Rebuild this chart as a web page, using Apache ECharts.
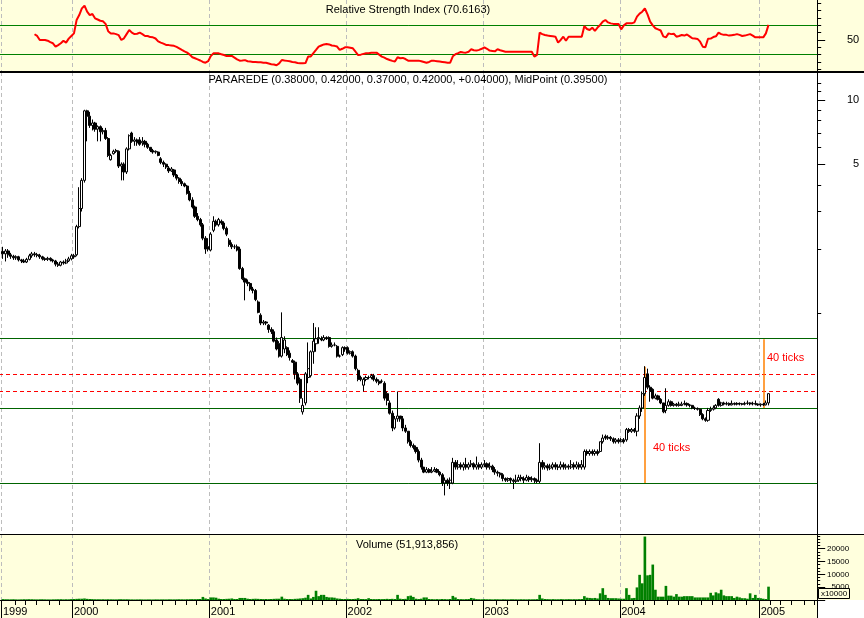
<!DOCTYPE html>
<html><head><meta charset="utf-8">
<script src="https://cdn.jsdelivr.net/npm/echarts@6/dist/echarts.min.js"></script>
<style>
html,body{margin:0;padding:0;background:#fff;}
#wrap{position:relative;width:864px;height:618px;background:#FFFFDD;overflow:hidden;}
.bg{position:absolute;background:#fff;}
#chart{position:absolute;left:0;top:0;width:864px;height:618px;}
</style></head><body>
<div id="wrap">
<div class="bg" style="left:0;top:72px;width:864px;height:462px"></div>
<div class="bg" style="left:818px;top:600px;width:46px;height:18px"></div>
<div id="chart"></div>
</div>
<script>
// ---------- data ----------
const yearLabels = ['1999','2000','2001','2002','2003','2004','2005'];
const rsiTicks = [10,20,30,40,50,60,70,80,90,100];
const rsiLabels = [50];
const rsiLevels = [70, 30];
const priceTicks = [1,2,3,4,5,6,7,8,9,10,11,12];
const priceLabels = [5, 10];
const greenLevels = [0.755, 0.36, 0.16];
const redLevels = [0.52, 0.43];
const volMinorTicks = [1250,2500,3750,6250,7500,8750,11250,12500,13750,16250,17500,18750,21250,22500,23750,25000];
const volMajorTicks = [0,5000,10000,15000,20000];
const volLabels = [5000,10000,15000,20000];
const markerWeeks = [244, 289];
const markerSpans = [[0.562, 0.16],[0.755, 0.36]];

// weekly bars [open, close, low, high], first week ending Fri 2 Jul 1999
const ohlc = [
[1.95,1.90,1.80,2.05],[1.90,1.96,1.75,2.00],[1.96,1.88,1.82,2.00],[1.88,1.85,1.80,1.92],[1.85,1.82,1.78,1.88],
[1.82,1.84,1.78,1.87],[1.84,1.78,1.75,1.86],[1.78,1.76,1.72,1.80],[1.76,1.74,1.72,1.80],[1.74,1.79,1.72,1.82],
[1.79,1.86,1.77,1.90],[1.86,1.90,1.82,1.94],[1.90,1.88,1.84,1.94],[1.88,1.87,1.83,1.92],[1.87,1.84,1.80,1.90],
[1.84,1.80,1.77,1.86],[1.80,1.79,1.76,1.83],[1.79,1.81,1.76,1.84],[1.81,1.78,1.75,1.83],[1.78,1.76,1.73,1.80],
[1.76,1.70,1.66,1.78],[1.70,1.68,1.65,1.74],[1.68,1.74,1.66,1.76],[1.74,1.72,1.69,1.77],[1.72,1.76,1.70,1.80],
[1.76,1.80,1.74,1.84],[1.80,1.86,1.77,1.90],
[1.86,1.84,1.80,1.90],[1.88,2.55,1.85,2.60],[2.55,3.10,2.50,3.90],[3.10,4.20,3.00,4.30],[4.20,8.90,4.10,9.00],
[8.90,8.40,6.40,9.00],[8.40,7.60,7.40,8.80],[7.60,7.80,7.20,8.10],[7.80,7.30,7.10,7.90],[7.30,7.50,6.40,7.60],
[7.50,7.10,6.40,7.60],[7.10,7.20,6.90,7.40],[7.20,6.60,6.50,7.40],[6.60,5.50,5.40,6.70],[5.25,5.50,5.20,5.60],
[5.60,5.75,5.55,5.85],[5.75,5.80,5.65,5.90],[5.75,4.90,4.80,5.80],[4.90,5.00,4.20,5.10],[5.00,4.60,4.20,5.10],
[4.60,5.90,4.50,6.00],[5.90,6.80,5.80,6.90],[7.00,6.40,6.30,7.10],[6.40,6.50,6.10,6.70],[6.50,6.30,6.10,6.60],
[6.50,6.20,6.10,6.70],[6.30,6.40,6.10,6.70],[6.40,6.20,6.00,6.50],[6.20,6.00,5.90,6.30],[6.00,5.80,5.70,6.00],
[5.80,5.70,5.60,5.90],[5.70,5.75,5.60,5.80],[5.70,5.50,5.45,5.75],[5.30,5.10,5.00,5.40],[5.10,5.00,4.85,5.20],
[5.00,4.85,4.75,5.05],[4.80,4.65,4.55,4.90],[4.65,4.75,4.60,4.85],[4.70,4.45,4.35,4.75],[4.45,4.30,4.20,4.50],
[4.30,4.15,4.05,4.35],[4.15,4.05,3.95,4.25],[4.05,3.95,3.90,4.10],[3.95,3.65,3.60,4.00],[3.65,3.40,3.35,3.75],
[3.40,3.15,3.10,3.50],[3.15,2.85,2.80,3.20],[2.85,2.75,2.70,2.95],[2.75,2.60,2.55,2.80],[2.60,2.25,2.20,2.65],
[2.25,2.00,1.90,2.30],[2.05,2.00,1.95,2.25],
[1.98,2.35,1.95,2.40],[2.45,2.70,2.40,2.85],[2.70,2.60,2.55,2.75],[2.60,2.75,2.55,2.80],[2.70,2.65,2.60,2.75],
[2.65,2.50,2.45,2.70],[2.50,2.35,2.30,2.55],[2.20,2.10,2.05,2.25],[2.10,2.05,2.00,2.15],[2.05,2.05,2.00,2.10],
[2.05,1.98,1.95,2.10],[2.00,1.62,1.60,2.05],[1.62,1.45,1.43,1.65],[1.45,1.40,1.15,1.47],[1.40,1.38,1.34,1.44],
[1.38,1.30,1.27,1.40],[1.30,1.28,1.24,1.33],[1.28,1.16,1.14,1.30],[1.13,1.01,1.00,1.15],[0.98,0.90,0.88,1.00],
[0.90,0.91,0.88,0.93],[0.91,0.90,0.88,0.92],[0.88,0.84,0.81,0.89],[0.84,0.82,0.80,0.86],[0.82,0.74,0.73,0.84],
[0.75,0.68,0.67,0.77],[0.72,0.63,0.62,0.74],[0.63,0.77,0.62,1.01],[0.68,0.75,0.65,0.78],[0.69,0.64,0.63,0.70],
[0.65,0.62,0.60,0.67],[0.60,0.59,0.585,0.61],[0.59,0.52,0.49,0.60],[0.52,0.47,0.46,0.53],[0.49,0.40,0.38,0.50],
[0.345,0.37,0.335,0.40],[0.38,0.52,0.37,0.53],[0.50,0.55,0.47,0.73],[0.51,0.66,0.50,0.67],[0.66,0.74,0.58,0.90],
[0.72,0.76,0.66,0.86],[0.76,0.77,0.72,0.86],[0.76,0.75,0.74,0.78],[0.75,0.77,0.74,0.79],[0.77,0.76,0.75,0.78],
[0.77,0.70,0.69,0.78],[0.70,0.71,0.69,0.73],[0.71,0.71,0.70,0.73],[0.70,0.63,0.62,0.71],[0.63,0.63,0.62,0.64],
[0.64,0.69,0.63,0.70],[0.69,0.68,0.66,0.70],
[0.69,0.65,0.64,0.70],[0.65,0.66,0.64,0.67],[0.66,0.63,0.62,0.67],[0.63,0.55,0.54,0.64],[0.54,0.49,0.48,0.55],
[0.50,0.49,0.48,0.51],[0.46,0.49,0.43,0.50],[0.49,0.50,0.48,0.51],[0.50,0.50,0.49,0.51],[0.50,0.51,0.49,0.52],
[0.51,0.49,0.48,0.52],[0.49,0.48,0.47,0.50],[0.48,0.47,0.46,0.49],[0.48,0.48,0.47,0.49],[0.47,0.40,0.39,0.48],
[0.42,0.39,0.37,0.43],[0.38,0.34,0.335,0.39],[0.34,0.29,0.28,0.35],[0.29,0.32,0.285,0.33],[0.32,0.33,0.31,0.43],
[0.33,0.32,0.31,0.33],[0.32,0.29,0.28,0.33],[0.29,0.28,0.275,0.30],[0.28,0.25,0.245,0.28],[0.25,0.24,0.235,0.255],
[0.24,0.235,0.23,0.245],[0.235,0.225,0.22,0.24],[0.225,0.205,0.20,0.23],[0.205,0.19,0.185,0.21],[0.19,0.18,0.178,0.19],
[0.18,0.185,0.178,0.19],[0.185,0.18,0.178,0.188],[0.18,0.182,0.178,0.19],[0.182,0.185,0.18,0.19],[0.185,0.18,0.178,0.188],
[0.18,0.175,0.172,0.182],[0.175,0.16,0.155,0.178],[0.16,0.165,0.14,0.17],[0.165,0.16,0.155,0.168],[0.16,0.165,0.15,0.17],
[0.16,0.20,0.158,0.21],[0.20,0.19,0.185,0.205],[0.19,0.195,0.185,0.205],[0.195,0.19,0.185,0.20],[0.19,0.195,0.183,0.20],
[0.195,0.19,0.185,0.21],[0.19,0.195,0.185,0.20],[0.195,0.197,0.19,0.205],[0.197,0.19,0.185,0.20],[0.19,0.195,0.185,0.213],
[0.195,0.19,0.185,0.20],[0.19,0.195,0.186,0.20],
[0.195,0.197,0.19,0.205],[0.197,0.19,0.185,0.20],[0.19,0.192,0.185,0.20],[0.192,0.185,0.18,0.195],[0.185,0.18,0.175,0.19],
[0.18,0.178,0.172,0.183],[0.178,0.175,0.17,0.18],[0.175,0.168,0.163,0.178],[0.168,0.165,0.162,0.17],[0.165,0.168,0.162,0.17],
[0.168,0.165,0.16,0.17],[0.165,0.163,0.15,0.168],[0.163,0.165,0.16,0.175],[0.165,0.17,0.162,0.175],[0.17,0.168,0.163,0.175],
[0.168,0.165,0.16,0.172],[0.165,0.17,0.163,0.175],[0.17,0.166,0.162,0.173],[0.166,0.168,0.162,0.172],[0.168,0.165,0.16,0.17],
[0.165,0.163,0.16,0.168],[0.163,0.20,0.16,0.246],[0.20,0.19,0.185,0.205],[0.19,0.193,0.185,0.20],[0.193,0.188,0.183,0.197],
[0.188,0.192,0.184,0.197],[0.19,0.195,0.185,0.20],[0.195,0.19,0.185,0.20],[0.19,0.19,0.184,0.196],[0.19,0.195,0.185,0.202],
[0.195,0.19,0.185,0.20],[0.19,0.192,0.185,0.197],[0.192,0.19,0.185,0.196],[0.19,0.195,0.186,0.205],[0.195,0.19,0.185,0.20],
[0.19,0.195,0.186,0.202],[0.195,0.19,0.185,0.20],[0.19,0.195,0.185,0.205],[0.19,0.225,0.185,0.23],[0.225,0.22,0.215,0.23],
[0.22,0.225,0.215,0.23],[0.225,0.22,0.215,0.23],[0.22,0.225,0.215,0.23],[0.225,0.22,0.215,0.23],[0.225,0.25,0.222,0.25],
[0.25,0.26,0.245,0.27],[0.265,0.26,0.255,0.27],[0.26,0.262,0.255,0.268],[0.262,0.258,0.252,0.266],[0.258,0.25,0.245,0.262],
[0.25,0.255,0.245,0.26],[0.255,0.25,0.245,0.26],
[0.25,0.255,0.248,0.26],[0.255,0.25,0.245,0.26],[0.255,0.285,0.25,0.29],[0.285,0.28,0.275,0.29],[0.28,0.285,0.275,0.29],
[0.285,0.28,0.275,0.29],[0.28,0.33,0.265,0.34],[0.33,0.36,0.32,0.37],[0.36,0.42,0.345,0.43],[0.42,0.50,0.41,0.565],
[0.52,0.45,0.44,0.55],[0.45,0.43,0.385,0.46],[0.44,0.40,0.395,0.445],[0.40,0.41,0.395,0.42],[0.41,0.395,0.39,0.415],
[0.395,0.38,0.375,0.40],[0.38,0.345,0.34,0.38],[0.35,0.37,0.34,0.445],[0.37,0.385,0.365,0.395],[0.385,0.37,0.365,0.39],
[0.37,0.375,0.365,0.38],[0.375,0.37,0.365,0.38],[0.37,0.375,0.365,0.385],[0.37,0.375,0.367,0.385],[0.375,0.378,0.37,0.39],
[0.378,0.372,0.365,0.382],[0.372,0.37,0.362,0.376],[0.37,0.36,0.355,0.372],[0.36,0.358,0.352,0.365],[0.358,0.355,0.35,0.362],
[0.355,0.335,0.33,0.358],[0.335,0.32,0.315,0.34],[0.32,0.315,0.31,0.325],[0.315,0.35,0.31,0.36],[0.35,0.355,0.345,0.365],
[0.355,0.36,0.35,0.37],[0.36,0.37,0.355,0.375],[0.395,0.37,0.365,0.40],[0.37,0.38,0.365,0.385],[0.38,0.375,0.37,0.385],
[0.375,0.378,0.37,0.385],[0.378,0.372,0.368,0.382],[0.372,0.378,0.37,0.39],[0.378,0.375,0.37,0.382],[0.375,0.378,0.37,0.383],
[0.378,0.376,0.37,0.382],[0.376,0.375,0.37,0.38],[0.375,0.378,0.37,0.385],[0.378,0.38,0.372,0.39],[0.38,0.376,0.37,0.383],
[0.376,0.378,0.37,0.385],[0.378,0.375,0.37,0.39],[0.375,0.372,0.368,0.378],
[0.372,0.375,0.365,0.378],[0.375,0.372,0.368,0.38],[0.372,0.38,0.37,0.39],[0.38,0.42,0.37,0.42]
];

// weekly volume (x10000)
const volume = [
350,300,280,260,300,240,220,260,300,280,
320,300,260,240,280,300,260,240,220,260,
280,300,320,260,300,280,360,400,450,500,
500,600,450,400,350,300,300,280,300,260,
300,280,260,250,300,320,280,300,260,240,
220,240,260,240,220,250,240,220,260,240,
250,260,240,280,260,250,270,300,280,260,
300,320,350,330,360,400,1200,600,400,1000,
1000,900,500,400,400,450,500,600,400,400,
800,800,800,500,400,450,500,450,400,350,
400,350,400,450,500,500,1300,500,400,400,
350,450,500,600,700,900,2000,600,1200,3600,
1500,2000,2000,1200,1000,1000,900,600,500,400,
400,450,400,400,450,700,400,400,350,700,
400,350,350,400,350,400,450,400,450,400,
2000,500,400,450,1500,1700,1200,500,400,500,
1000,1000,400,350,300,350,300,400,350,300,
400,1600,1000,400,350,300,350,400,800,600,
350,300,300,350,300,300,250,300,300,250,
300,280,250,300,300,280,260,300,280,260,
300,280,300,350,2000,600,400,350,300,350,
300,300,350,300,300,350,300,320,300,350,
400,1500,900,800,700,800,600,2600,4600,2000,
800,700,700,700,600,500,500,4600,2000,700,
800,4900,9800,6500,24700,9600,9800,13800,4000,1300,
1300,1300,5500,1700,1700,1300,2300,1300,1300,1500,
1500,1500,1500,1000,1000,1000,1000,1000,1000,2800,
1800,3000,2600,4000,1800,1500,1500,1500,800,1300,
1000,700,700,500,2600,800,2000,800,700,500,
400,5191
];

// weekly RSI(14)
const rsi = [
null,null,null,null,null,null,null,null,null,null,
null,null,57.8,55.5,50,50,50,49,47,45.5,
40.9,43,45.5,49,46.4,51.8,55.5,59,77.3,84,
93.2,96.8,88.6,84,85.5,79.6,78,76.3,75.5,72,
62,59,59,58,56.6,50,52.3,58,63.6,60,
58,58.5,60,58,55.5,55.5,54,53.6,52,48,
46.4,45,43.2,43,42.5,42,40.5,38.6,36.5,34.5,
32.7,30,26.4,25,23.6,22,20,19,21,28,
31.8,31.8,31.8,30.5,29.5,28.2,28.2,28.2,26,23.5,
21.8,22,22.5,21,20.5,20,20,19.5,19.5,19,
19,18,17,16.5,15.5,18,22.7,22,21.5,21,
20,19.5,18.5,18.2,18.2,18.5,27.3,27.5,32,36.4,
40.9,42.5,44,44.5,44,42.5,42,41,36.4,38,
40,40,39.5,38.6,34,29.5,30,31,31.8,32,
32.5,32.7,32.7,30,27.3,26,24,22.7,21.5,20.5,
26.4,25,25.5,24,21.8,21.8,21.8,21.8,21.8,21,
20,19,20,21.8,21.5,21,20.5,20,19.5,19,
19,27.7,30.5,32,33.6,33,32.7,34,37.3,36,
35.5,36.5,38,40,38,35.5,35,34.5,37.3,36,
35,34,34,34,34,34,34,34,34,34,
34,34,27.3,29.5,60,58,56.8,56,55.5,55,
54.5,46.4,50,54.5,49,54.5,54.5,54.5,54.5,54.5,
54.5,69,65,63.6,66.8,62.3,67,70.5,75,77.3,
74,72.7,72,72,71.8,64.5,70,72.7,72.7,72.7,
74,81.8,86,88.6,93,85,75,70,66,64.5,
63,55,53.6,59,58,58.5,54.5,55.5,56.8,56,
57.5,55,52.3,52,51.5,47.7,40.9,40,51.8,52,
54,55,60,58,57,57,56,56.5,57,58,
57,55.5,56,57,58,56,53.6,53.6,53.6,53.6,
59,70.6163
];

// categories: one leading blank week, then weekly Fridays through June 2005
const weeks = [];
(function(){ const t0 = Date.UTC(1999,5,25); for (let i = 0; i <= 310; i++) weeks.push(new Date(t0 + i*604800000).toISOString().slice(0,10)); })();

// ---------- chart ----------
const FONT = '"Liberation Sans", Arial, sans-serif';
const yr = i => weeks[i].slice(0,4), mo = i => weeks[i].slice(0,7);
const isYearStart = i => i >= 1 && (i === 1 || yr(i) !== yr(i-1)) && yearLabels.indexOf(yr(i)) >= 0;
const isMonthStart = i => i >= 1 && mo(i) !== mo(i-1);
const gridSplit = {show:true, interval:isYearStart, lineStyle:{color:'#BDBDBD', type:[4,3], width:1}};
const blk = {color:'#000', width:1};

function xAx(g, extra){ return Object.assign({type:'category', gridIndex:g, data:weeks, boundaryGap:true, position:'bottom',
  axisLine:{show:false, onZero:false}, axisTick:{show:false}, axisLabel:{show:false}, splitLine:{show:false}}, extra); }
function yAx(g, extra){ return Object.assign({gridIndex:g, position:'right', axisLine:{show:true, lineStyle:blk},
  splitLine:{show:false}, axisLabel:{show:false}, axisTick:{show:false}}, extra); }

const gridBase = {left:-1, right:46.8, show:false, containLabel:false, outerBoundsMode:'none'};
const option = {
  animation:false,
  textStyle:{fontFamily:FONT},
  grid:[
    Object.assign({top:0, height:72}, gridBase),
    Object.assign({top:72, height:462}, gridBase),
    Object.assign({top:534, height:66}, gridBase)
  ],
  xAxis:[
    xAx(0,{splitLine:gridSplit}),
    xAx(1,{splitLine:gridSplit}),
    xAx(2,{splitLine:gridSplit, axisLine:{show:true, onZero:false, lineStyle:blk},
      axisTick:{show:true, interval:isMonthStart, length:5, lineStyle:blk}}),
    xAx(2,{position:'bottom', offset:0, axisTick:{show:true, interval:isYearStart, length:18, lineStyle:blk},
      axisLabel:{show:true, interval:isYearStart, formatter:v => v.slice(0,4), align:'left', margin:6,
        fontSize:11, color:'#000', fontFamily:FONT}})
  ],
  yAxis:[
    yAx(0,{type:'value', min:6.3, max:104.6, axisTick:{show:true, customValues:rsiTicks, length:4, lineStyle:blk}}),
    yAx(0,{type:'value', min:6.3, max:104.6, axisTick:{show:true, customValues:rsiLabels, length:8, lineStyle:blk},
      axisLabel:{show:true, customValues:rsiLabels, align:'right', margin:42, fontSize:11, color:'#000', fontFamily:FONT}}),
    yAx(1,{type:'log', logBase:10, min:0.0923, max:13.53, axisTick:{show:true, customValues:priceTicks, length:4, lineStyle:blk}}),
    yAx(1,{type:'log', logBase:10, min:0.0923, max:13.53, axisTick:{show:true, customValues:priceLabels, length:8, lineStyle:blk},
      axisLabel:{show:true, customValues:priceLabels, align:'right', margin:42, fontSize:11, color:'#000', fontFamily:FONT}}),
    yAx(2,{type:'value', min:0, max:25700, axisTick:{show:true, customValues:volMinorTicks, length:3, lineStyle:blk}}),
    yAx(2,{type:'value', min:0, max:25700, axisTick:{show:true, customValues:volMajorTicks, length:8, lineStyle:blk},
      axisLabel:{show:true, customValues:volLabels, formatter:v => String(v), align:'right', margin:32, fontSize:8, color:'#000', fontFamily:FONT}})
  ],
  series:[
    {type:'line', xAxisIndex:0, yAxisIndex:0, data:rsi.map((v,i)=>[weeks[i+1], v]), symbol:'none', showSymbol:false,
     lineStyle:{color:'#FF0000', width:2}, itemStyle:{color:'#FF0000'}, z:5,
     markLine:{silent:true, symbol:['none','none'], label:{show:false}, animation:false,
       lineStyle:{color:'#008000', width:1, type:'solid'}, data:rsiLevels.map(v=>({yAxis:v}))}},
    {type:'candlestick', xAxisIndex:1, yAxisIndex:2, data:ohlc.map((d,i)=>[weeks[i+1]].concat(d)),
     encode:{x:0, y:[1,2,3,4]}, barWidth:2.6,
     itemStyle:{color:'#FFFFFF', color0:'#000000', borderColor:'#000000', borderColor0:'#000000', borderWidth:1},
     markLine:{silent:true, symbol:['none','none'], label:{show:false}, animation:false, z:1,
       data: greenLevels.map(v=>({yAxis:v, lineStyle:{color:'#006400', width:1, type:'solid'}}))
         .concat(redLevels.map(v=>({yAxis:v, lineStyle:{color:'#FF0000', width:1, type:[4,3]}})))
         .concat(markerWeeks.map((w,k)=>[
            {coord:[weeks[w+1], markerSpans[k][0]], lineStyle:{color:'#FF8000', width:1.5, type:'solid'}},
            {coord:[weeks[w+1], markerSpans[k][1]]}]))
     }},
    {type:'bar', xAxisIndex:2, yAxisIndex:4, data:volume.map((v,i)=>[weeks[i+1], v]), barCategoryGap:'0%',
     itemStyle:{color:'#008000'}}
  ],
  graphic:[
    {type:'line', z:100, shape:{x1:0,y1:72,x2:864,y2:72}, style:{stroke:'#000', lineWidth:2}},
    {type:'line', z:100, shape:{x1:0,y1:534.5,x2:864,y2:534.5}, style:{stroke:'#000', lineWidth:1}},
    {type:'text', z:100, x:408, y:10, style:{text:'Relative Strength Index (70.6163)', font:'11px '+FONT, fill:'#000',
      align:'center', verticalAlign:'middle', textAlign:'center', textVerticalAlign:'middle'}},
    {type:'text', z:100, x:408, y:80, style:{text:'PARAREDE (0.38000, 0.42000, 0.37000, 0.42000, +0.04000), MidPoint (0.39500)',
      font:'11px '+FONT, fill:'#000', align:'center', verticalAlign:'middle', textAlign:'center', textVerticalAlign:'middle'}},
    {type:'text', z:100, x:407, y:545, style:{text:'Volume (51,913,856)', font:'11px '+FONT, fill:'#000',
      align:'center', verticalAlign:'middle', textAlign:'center', textVerticalAlign:'middle'}},
    {type:'text', z:100, x:653, y:448, style:{text:'40 ticks', font:'11px '+FONT, fill:'#FF0000',
      align:'left', verticalAlign:'middle', textAlign:'left', textVerticalAlign:'middle'}},
    {type:'text', z:100, x:767, y:358, style:{text:'40 ticks', font:'11px '+FONT, fill:'#FF0000',
      align:'left', verticalAlign:'middle', textAlign:'left', textVerticalAlign:'middle'}},
    {type:'rect', z:100, shape:{x:818.5, y:588.5, width:31, height:10}, style:{fill:'#FFFFDD', stroke:'#000', lineWidth:1}},
    {type:'text', z:101, x:834, y:594, style:{text:'x10000', font:'8px '+FONT, fill:'#000',
      align:'center', verticalAlign:'middle', textAlign:'center', textVerticalAlign:'middle'}}
  ]
};
const chart = echarts.init(document.getElementById('chart'), null, {renderer:'canvas'});
chart.setOption(option);
</script>
</body></html>
